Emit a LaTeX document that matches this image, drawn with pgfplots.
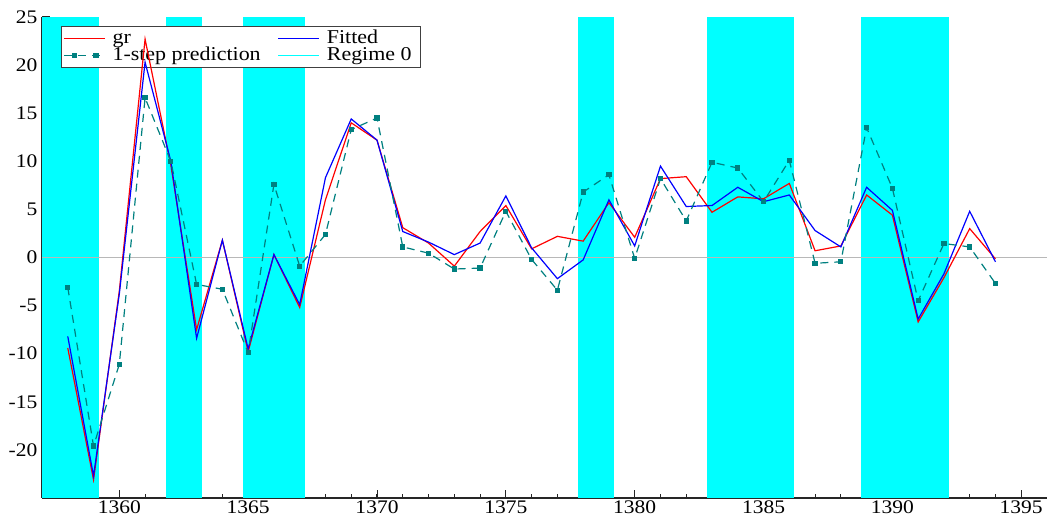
\documentclass[border=0pt]{standalone}
\usepackage{fontspec}
\setmainfont{Liberation Serif}[FakeStretch=1.12]
\usepackage{pgfplots}
\usepackage{pgfplotstable}
\pgfplotsset{compat=1.18}

\definecolor{grred}{rgb}{1,0,0}
\definecolor{fitblue}{rgb}{0,0,1}
\definecolor{predteal}{rgb}{0,0.5,0.5}
\definecolor{regcyan}{rgb}{0,1,1}

% year, actual (gr), fitted, 1-step prediction
\pgfplotstableread{
year  gr     fit    pred
1358 -9.4   -8.2   -3.1
1359 -23.1  -22.7  -19.6
1360 -3.5   -3.8   -11.1
1361 22.7   20.3   16.6
1362 9.6    10.0   10.0
1363 -7.5   -8.4   -2.8
1364 1.8    1.8    -3.3
1365 -9.8   -9.5   -9.9
1366 0.3    0.3    7.6
1367 -5.2   -4.9   -0.9
1368 6.0    8.3    2.4
1369 14.0   14.4   13.3
1370 12.2   12.2   14.5
1371 3.1    2.7    1.1
1372 1.5    1.6    0.45
1373 -0.9   0.3    -1.2
1374 2.7    1.5    -1.1
1375 5.4    6.4    4.8
1376 0.9    1.0    -0.2
1377 2.2    -2.2   -3.4
1378 1.7    -0.25  6.8
1379 5.7    6.0    8.6
1380 2.1    1.2    -0.1
1381 8.2    9.5    8.2
1382 8.4    5.3    3.8
1383 4.7    5.4    9.9
1384 6.3    7.3    9.3
1385 6.1    5.8    5.8
1386 7.7    6.5    10.1
1387 0.7    2.8    -0.6
1388 1.2    1.1    -0.45
1389 6.5    7.3    13.5
1390 4.4    4.9    7.2
1391 -6.7   -6.4   -4.5
1392 -2.1   -1.7   1.45
1393 3.0    4.8    1.1
1394 -0.15  -0.45  -2.7
}\gdata

\pgfplotsset{
  myframe/.style={
    scale only axis,
    width=502.5pt, height=240.5pt,
    xmin=1357, xmax=1396,
    ymin=-25, ymax=25,
  },
  predline/.style={line width=0.6pt, dash pattern=on 4pt off 3pt, mark=square*, mark size=1pt, mark options={solid}},
}

\begin{document}
\begin{tikzpicture}
% axes, regime bands, zero line and legend
\begin{axis}[
myframe,
name=ax,
axis x line*=bottom,
axis y line*=left,
axis line style={black!85, line width=0.6pt},
tick pos=left,
tick align=inside,
tick style={black!85, line width=0.5pt},
major tick length=3.8pt,
minor tick length=2pt,
xtick={1360,1365,...,1395},
minor xtick={1357,1358,...,1396},
ytick={-20,-15,...,25},
minor ytick={-22.5,-17.5,...,22.5},
/pgf/number format/assume math mode=true,
/pgf/number format/1000 sep={},
tick label style={font=\fontsize{9.6}{11}\selectfont},
yticklabel style={xshift=1.2pt},
xticklabel style={yshift=2pt},
legend columns=2,
legend cell align=left,
legend style={
  at={(0.019,0.981)}, anchor=north west,
  draw=black!75, fill=white, line width=0.5pt,
  font=\fontsize{9.8}{10}\selectfont,
  inner sep=1pt, row sep=-1pt,
  nodes={inner ysep=0.6pt, inner xsep=3.4pt, text height=6.8pt, text depth=1.6pt},
  /tikz/every even column/.append style={column sep=5pt},
},
legend image code/.code={
  \draw[#1, mark indices={2,3}] plot coordinates {(0cm,0cm) (0.18cm,0cm) (0.56cm,0cm) (0.72cm,0cm)};
},
]
\addplot [forget plot, fill=regcyan, draw=none] coordinates {(1357,-25) (1359.2,-25) (1359.2,25) (1357,25)} --cycle;
\addplot [forget plot, fill=regcyan, draw=none] coordinates {(1361.8,-25) (1363.2,-25) (1363.2,25) (1361.8,25)} --cycle;
\addplot [forget plot, fill=regcyan, draw=none] coordinates {(1364.8,-25) (1367.2,-25) (1367.2,25) (1364.8,25)} --cycle;
\addplot [forget plot, fill=regcyan, draw=none] coordinates {(1377.8,-25) (1379.2,-25) (1379.2,25) (1377.8,25)} --cycle;
\addplot [forget plot, fill=regcyan, draw=none] coordinates {(1382.8,-25) (1386.2,-25) (1386.2,25) (1382.8,25)} --cycle;
\addplot [forget plot, fill=regcyan, draw=none] coordinates {(1388.8,-25) (1392.2,-25) (1392.2,25) (1388.8,25)} --cycle;
\addplot [forget plot, black!28, line width=0.9pt] coordinates {(1357,0) (1396,0)};

\addlegendimage{legend image code/.code={\draw[grred, line width=0.6pt] (0cm,0cm) -- (0.72cm,0cm);}}
\addlegendentry{gr}
\addlegendimage{legend image code/.code={\draw[fitblue, line width=0.6pt] (0cm,0cm) -- (0.72cm,0cm);}}
\addlegendentry{Fitted}
\addlegendimage{color=predteal, predline}
\addlegendentry{1-step prediction}
\addlegendimage{draw=regcyan, line width=0.8pt}
\addlegendentry{Regime 0}
\end{axis}

% the series, drawn over the legend as in the original
\begin{axis}[myframe, hide axis]
\addplot [color=grred, line width=0.6pt] table [x=year, y=gr] {\gdata};
\addplot [color=fitblue, line width=0.6pt] table [x=year, y=fit] {\gdata};
\addplot [color=predteal, predline] table [x=year, y=pred] {\gdata};
\end{axis}
\pgfresetboundingbox
\path ([xshift=-21pt,yshift=-9.5pt]ax.south west) rectangle ([yshift=8.5pt]ax.north east);
\end{tikzpicture}
\end{document}
